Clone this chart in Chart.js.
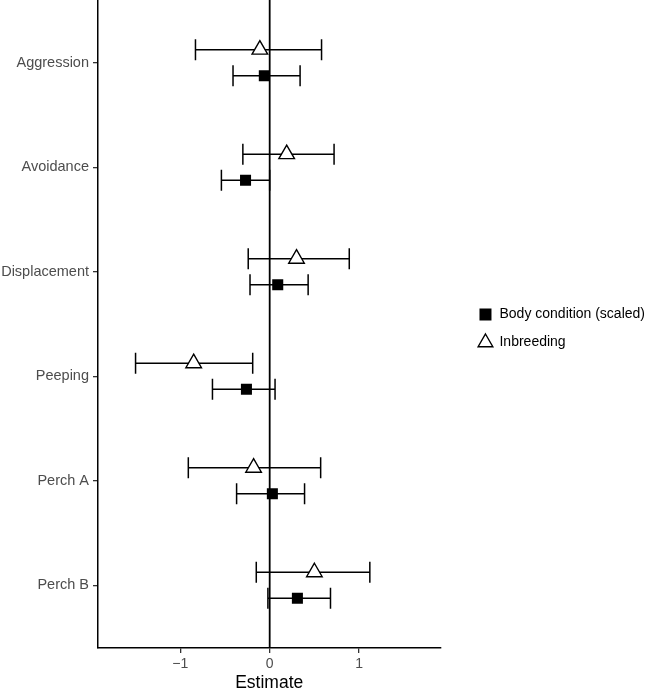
<!DOCTYPE html>
<html>
<head>
<meta charset="utf-8">
<script src="https://cdn.jsdelivr.net/npm/chart.js@4/dist/chart.umd.min.js"></script>
<style>
  html, body { margin: 0; padding: 0; background: #ffffff; }
  #wrap { width: 657px; height: 691px; }
</style>
</head>
<body>
<div id="wrap"><canvas id="c" width="657" height="691"></canvas></div>
<script>
// ---- data ----
const categories = ['Aggression', 'Avoidance', 'Displacement', 'Peeping', 'Perch A', 'Perch B'];
const seriesNames = ['Body condition (scaled)', 'Inbreeding'];

const bodyEst = [-0.06, -0.27, 0.09, -0.26, 0.03, 0.31];
const bodyLo  = [-0.41, -0.54, -0.22, -0.64, -0.37, -0.02];
const bodyHi  = [0.34, 0.00, 0.43, 0.06, 0.39, 0.68];

const inbEst = [-0.11, 0.19, 0.30, -0.85, -0.18, 0.50];
const inbLo  = [-0.83, -0.30, -0.24, -1.50, -0.91, -0.15];
const inbHi  = [0.58, 0.72, 0.89, -0.19, 0.57, 1.12];

const xTickValues = [-1, 0, 1];
const xTickLabels = ['\u22121', '0', '1'];
const xTitle = 'Estimate';

// ---- helpers ----
const DODGE = 0.125;
function pts(est, lo, hi, off) {
  return categories.map((c, i) => ({ x: est[i], y: i + 1 + off, lo: lo[i], hi: hi[i] }));
}

const LINE_W = 1.5;
const errorBarPlugin = {
  id: 'errorBars',
  beforeDatasetsDraw(chart) {
    const { ctx, chartArea, scales: { x, y } } = chart;
    ctx.save();
    ctx.strokeStyle = '#000';
    // horizontal error bars
    ctx.lineWidth = LINE_W;
    const cap = 10.5;
    chart.data.datasets.forEach((ds) => {
      ds.data.forEach((p) => {
        const yp = y.getPixelForValue(p.y);
        const xl = x.getPixelForValue(p.lo);
        const xh = x.getPixelForValue(p.hi);
        ctx.beginPath();
        ctx.moveTo(xl, yp); ctx.lineTo(xh, yp);
        ctx.moveTo(xl, yp - cap); ctx.lineTo(xl, yp + cap);
        ctx.moveTo(xh, yp - cap); ctx.lineTo(xh, yp + cap);
        ctx.stroke();
      });
    });
    // zero reference line
    ctx.lineWidth = 1.8;
    const x0 = x.getPixelForValue(0);
    ctx.beginPath();
    ctx.moveTo(x0, chartArea.top);
    ctx.lineTo(x0, chartArea.bottom);
    ctx.stroke();
    ctx.restore();
  }
};

const FONT = "'Liberation Sans', Arial, Helvetica, sans-serif";

new Chart(document.getElementById('c'), {
  type: 'scatter',
  data: {
    datasets: [
      {
        label: seriesNames[0],
        data: pts(bodyEst, bodyLo, bodyHi, DODGE),
        pointStyle: 'rect',
        pointRadius: 7.8,
        backgroundColor: '#000',
        borderColor: '#000',
        borderWidth: 0
      },
      {
        label: seriesNames[1],
        data: pts(inbEst, inbLo, inbHi, -DODGE),
        pointStyle: 'triangle',
        pointRadius: 9,
        backgroundColor: '#ffffff',
        borderColor: '#000',
        borderWidth: 1.4
      }
    ]
  },
  options: {
    responsive: false,
    animation: false,
    events: [],
    layout: { autoPadding: false, padding: { top: 0, left: 0, bottom: 0, right: 2 } },
    scales: {
      x: {
        type: 'linear',
        min: -1.92,
        max: 1.91,
        afterBuildTicks: (s) => { s.ticks = xTickValues.map(v => ({ value: v })); },
        afterFit: (s) => { s.height = 43; s.paddingLeft = 0; s.paddingRight = 0; },
        ticks: {
          callback: (v) => xTickLabels[xTickValues.indexOf(v)],
          font: { family: FONT, size: 14 },
          color: '#4d4d4d',
          padding: 3,
          maxRotation: 0
        },
        grid: { display: true, drawOnChartArea: false, drawTicks: true, tickLength: 5, color: '#333', lineWidth: 1.3 },
        border: { display: true, color: '#000', width: LINE_W },
        title: {
          display: true,
          text: xTitle,
          font: { family: FONT, size: 17.5, lineHeight: 0.9 },
          color: '#000',
          padding: { top: 0, bottom: 0 }
        }
      },
      y: {
        type: 'linear',
        reverse: true,
        min: 0.4,
        max: 6.6,
        afterBuildTicks: (s) => { s.ticks = categories.map((c, i) => ({ value: i + 1 })); },
        afterFit: (s) => { s.width = 98; s.paddingTop = 0; s.paddingBottom = 0; },
        ticks: {
          callback: (v) => categories[v - 1],
          font: { family: FONT, size: 14.5 },
          color: '#4d4d4d',
          padding: 4
        },
        grid: { display: true, drawOnChartArea: false, drawTicks: true, tickLength: 5, color: '#333', lineWidth: 1.3 },
        border: { display: true, color: '#000', width: LINE_W }
      },
      // empty spacer between the panel and the legend (no ticks, no line)
      gap: {
        type: 'linear',
        position: 'right',
        display: true,
        afterFit: (s) => { s.width = 24; s.paddingTop = 0; s.paddingBottom = 0; },
        grid: { display: false },
        ticks: { display: false },
        border: { display: false }
      }
    },
    plugins: {
      tooltip: { enabled: false },
      legend: {
        position: 'right',
        fullSize: false,
        maxWidth: 230,
        title: { display: true, text: ' ', font: { size: 9, lineHeight: 1 }, padding: 0 },
        labels: {
          usePointStyle: true,
          boxHeight: 12,
          boxWidth: 14,
          padding: 14,
          color: '#000',
          font: { family: FONT, size: 14 }
        }
      }
    }
  },
  plugins: [errorBarPlugin]
});
</script>
</body>
</html>
